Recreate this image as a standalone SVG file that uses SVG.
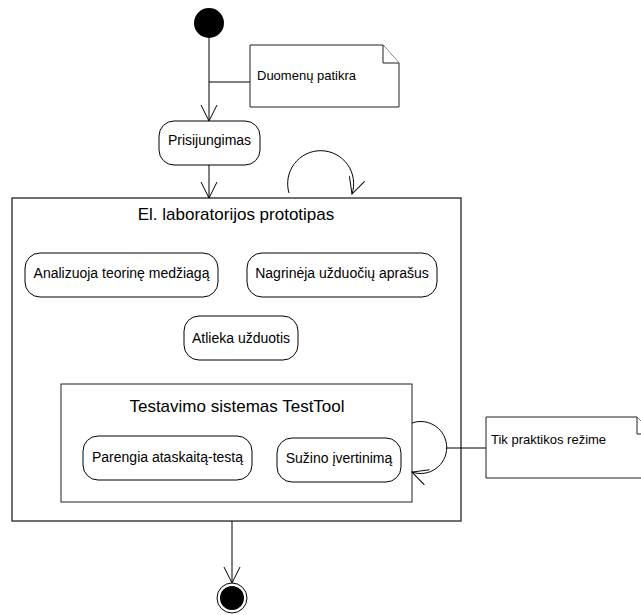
<svg xmlns="http://www.w3.org/2000/svg" width="641" height="615" viewBox="0 0 641 615">
  <style>
    .bg { fill: #ffffff; }
    .act { fill: #ffffff; stroke: #000000; stroke-width: 1; }
    .frame { fill: #ffffff; stroke: #404040; stroke-width: 1.5; }
    .inner { fill: #ffffff; stroke: #202020; stroke-width: 1; }
    .note { fill: #ffffff; stroke: #202020; stroke-width: 1; }
    .line { fill: none; stroke: #000000; stroke-width: 1; }
    .lbl { font-family: "Liberation Sans", Arial, sans-serif; font-size: 14px; fill: #000000; text-anchor: middle; }
    .title { font-family: "Liberation Sans", Arial, sans-serif; font-size: 17px; fill: #000000; text-anchor: middle; }
    .ntxt { font-family: "Liberation Sans", Arial, sans-serif; font-size: 13px; fill: #000000; }
  </style>
  <defs>
    <marker id="open" viewBox="0 0 20 20" refX="16" refY="10" markerWidth="20" markerHeight="20" markerUnits="userSpaceOnUse" orient="auto">
      <path d="M0,2 L16,10 L0,18" fill="none" stroke="#000000" stroke-width="1"/>
    </marker>
  </defs>

  <rect class="bg" x="0" y="0" width="641" height="615"/>

  <!-- composite state frames -->
  <g id="prototype">
    <rect class="frame" x="12" y="198" width="449" height="323"/>
    <text class="title" x="236" y="220">El. laboratorijos prototipas</text>
  </g>
  <g id="testtool">
    <rect class="inner" x="61" y="384" width="351" height="118"/>
    <text class="title" x="237" y="412">Testavimo sistemas TestTool</text>
  </g>

  <!-- connectors -->
  <g id="connectors">
    <line class="line" x1="209" y1="38" x2="209" y2="121" marker-end="url(#open)"/>
    <line class="line" x1="209" y1="82" x2="250" y2="82"/>
    <line class="line" x1="209" y1="165" x2="209" y2="198" marker-end="url(#open)"/>
    <path class="line" d="M289,193 A33,33 0 1 1 352,194" marker-end="url(#open)"/>
    <path class="line" d="M412,423 A26,26 0 1 1 412,472" marker-end="url(#open)"/>
    <line class="line" x1="446" y1="448" x2="486" y2="448"/>
    <line class="line" x1="232" y1="521" x2="232" y2="583" marker-end="url(#open)"/>
  </g>

  <!-- pseudo states -->
  <g id="start">
    <circle cx="209" cy="23" r="15" fill="#000000"/>
  </g>
  <g id="end">
    <circle cx="232" cy="598" r="15" fill="#ffffff" stroke="#000000" stroke-width="1"/>
    <circle cx="232" cy="598" r="12" fill="#000000"/>
  </g>

  <!-- notes -->
  <g id="note-check">
    <path class="note" d="M250,45 H383 L399,63 V107 H250 Z"/>
    <path class="note" d="M383,45 V63 H399"/>
    <text class="ntxt" x="257" y="80">Duomenų patikra</text>
  </g>
  <g id="note-practice">
    <path class="note" d="M486,417 H637 L653,434 V478 H486 Z"/>
    <path class="note" d="M637,417 V434 H653"/>
    <text class="ntxt" x="491" y="444">Tik praktikos režime</text>
  </g>

  <!-- activities -->
  <g id="login">
    <rect class="act" x="159" y="121" width="101" height="44" rx="15" ry="15"/>
    <text class="lbl" x="209.5" y="145">Prisijungimas</text>
  </g>
  <g id="theory">
    <rect class="act" x="25" y="253" width="193" height="44" rx="15" ry="15"/>
    <text class="lbl" x="121.5" y="278">Analizuoja teorinę medžiagą</text>
  </g>
  <g id="tasks-desc">
    <rect class="act" x="247" y="253" width="190" height="44" rx="15" ry="15"/>
    <text class="lbl" x="342" y="278">Nagrinėja užduočių aprašus</text>
  </g>
  <g id="do-tasks">
    <rect class="act" x="184" y="316" width="114" height="44" rx="15" ry="15"/>
    <text class="lbl" x="241" y="343">Atlieka užduotis</text>
  </g>
  <g id="report">
    <rect class="act" x="83" y="436" width="169" height="44" rx="15" ry="15"/>
    <text class="lbl" x="167.5" y="462">Parengia ataskaitą-testą</text>
  </g>
  <g id="grade">
    <rect class="act" x="277" y="438" width="124" height="44" rx="15" ry="15"/>
    <text class="lbl" x="339" y="463">Sužino įvertinimą</text>
  </g>
</svg>
